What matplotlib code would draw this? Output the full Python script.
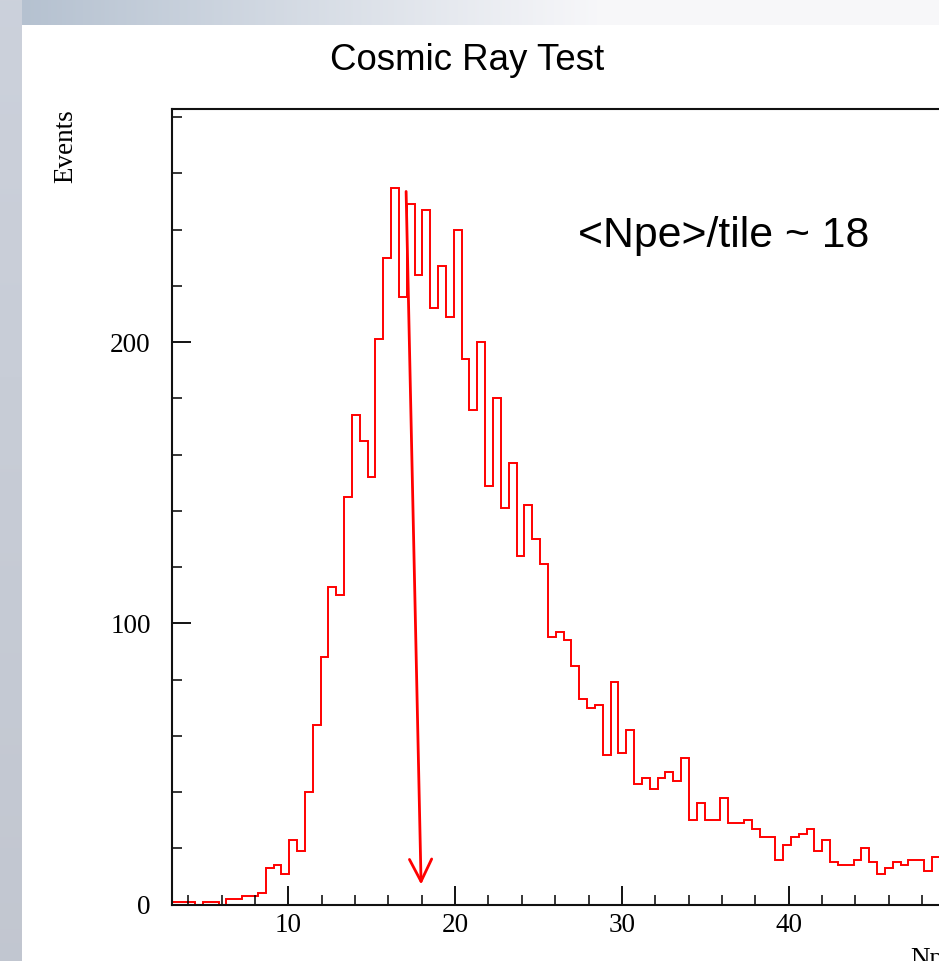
import numpy as np
import matplotlib
matplotlib.use("Agg")
import matplotlib.pyplot as plt
from matplotlib.ticker import MultipleLocator

# ---------------- data ----------------
x_min = 3.0
bin_width = 0.47           # 100 bins over 3..50
counts = [1, 1, 1, 0, 1, 1, 0, 2, 2, 3,
          3, 4, 13, 14, 11, 23, 19, 40, 64, 88,
          113, 110, 145, 174, 165, 152, 201, 230, 255, 216,
          249, 224, 247, 212, 227, 209, 240, 194, 176, 200,
          149, 180, 141, 157, 124, 142, 130, 121, 95, 97,
          94, 85, 73, 70, 71, 53, 79, 54, 62, 43,
          45, 41, 45, 47, 44, 52, 30, 36, 30, 30,
          38, 29, 29, 30, 27, 24, 24, 16, 21, 24,
          25, 27, 19, 23, 15, 14, 14, 16, 20, 15,
          11, 13, 15, 14, 16, 16, 12, 17]
edges = x_min + bin_width * np.arange(len(counts) + 1)

x_ticks = [10, 20, 30, 40]
y_ticks = [0, 100, 200]
title = "Cosmic Ray Test"
annotation = "<Npe>/tile ~ 18"
arrow_start = (17.06, 253.6)
arrow_end = (17.96, 7.1)

# ---------------- figure ----------------
W, H = 939, 961
fig = plt.figure(figsize=(W / 100, H / 100), dpi=100)

# background (slide-like frame)
img = np.ones((H, W, 3))
xx = np.arange(W)[None, :]
yy = np.arange(H)[:, None]
strip = np.array([0.80, 0.82, 0.86])
top_left = np.array([0.70, 0.75, 0.81])
t = np.clip(xx / 600.0, 0, 1)
topcol = top_left[None, None, :] * (1 - t[..., None]) + np.array([0.97, 0.97, 0.98])[None, None, :] * t[..., None]
topmask = (yy < 25)
img = np.where(topmask[..., None], np.broadcast_to(topcol, (H, W, 3)), img)
leftmask = (xx < 22)
vert = np.clip(yy / H, 0, 1)
leftcol = strip[None, None, :] * (1 - 0.05 * vert[..., None])
img = np.where(np.broadcast_to(leftmask[..., None], (H, W, 3)),
               np.broadcast_to(leftcol, (H, W, 3)), img)
bg = fig.add_axes([0, 0, 1, 1])
bg.imshow(img, aspect="auto", extent=(0, W, H, 0), interpolation="bilinear")
bg.set_xlim(0, W)
bg.set_ylim(H, 0)
bg.axis("off")

# main axes (right edge extends beyond the canvas)
ax_left, ax_right = 171.6, 955.5
ax_top, ax_bot = 108.8, 904.5
ax = fig.add_axes([ax_left / W, 1 - ax_bot / H,
                   (ax_right - ax_left) / W, (ax_bot - ax_top) / H])
ax.set_facecolor("none")
ax.stairs(counts, edges, baseline=None, color="#ff0000", lw=1.4)
ax.set_xlim(3, 50)
ax.set_ylim(0, 283)

ax.set_xticks(x_ticks)
ax.set_yticks(y_ticks)
ax.xaxis.set_minor_locator(MultipleLocator(2))
ax.yaxis.set_minor_locator(MultipleLocator(20))
ax.tick_params(which="major", direction="in", length=14, width=1.3,
               labelsize=19.5, colors="black")
ax.tick_params(which="minor", direction="in", length=7, width=1.1)
ax.tick_params(axis="x", pad=6)
ax.tick_params(axis="y", pad=15)
for lab in ax.get_xticklabels() + ax.get_yticklabels():
    lab.set_family("Liberation Serif")
for side in ["left", "bottom", "top", "right"]:
    ax.spines[side].set_linewidth(1.5)
    ax.spines[side].set_color("#111111")

ax.annotate("", xy=arrow_end, xytext=arrow_start,
            arrowprops=dict(arrowstyle="->,head_length=0.8,head_width=0.4",
                            color="#ff0000", lw=2, mutation_scale=20,
                            shrinkA=0, shrinkB=0))

# texts
fig.text(467.5 / W, 1 - 61 / H, title, ha="center", va="center",
         family="Liberation Sans", size=26.4)
fig.text(578 / W, 1 - 236 / H, annotation, ha="left", va="center",
         family="Liberation Sans", size=30.8)
fig.text(66 / W, 1 - 146 / H, "Events", rotation=90, ha="center", va="center",
         family="Liberation Serif", size=19.5)
fig.text(ax_right / W, 1 - 947 / H, "Npe", ha="right", va="top",
         family="Liberation Serif", size=19.5)

fig.savefig("out.png", dpi=100)
